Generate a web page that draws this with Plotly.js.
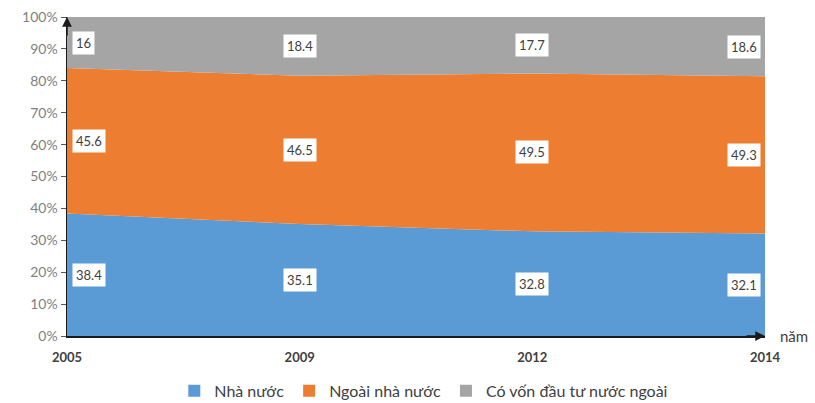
<!DOCTYPE html>
<html><head><meta charset="utf-8">
<script src="https://cdn.plot.ly/plotly-3.0.1.min.js"></script>
<style>html,body{margin:0;padding:0;background:#fff;}#c{width:815px;height:403px;}</style>
</head><body><div id="c"></div>
<script>
const years = ['2005','2009','2012','2014'];
const nhaNuoc = [38.4, 35.1, 32.8, 32.1];
const ngoaiNhaNuoc = [45.6, 46.5, 49.5, 49.3];
const fdi = [16, 18.4, 17.7, 18.6];
const names = ['Nhà nước','Ngoài nhà nước','Có vốn đầu tư nước ngoài'];
const colors = ['#5B9BD5','#ED7D31','#A5A5A5'];
const series = [nhaNuoc, ngoaiNhaNuoc, fdi];

const xi = years.map((_, i) => i);
const traces = series.map((s, k) => ({
  x: xi, y: s, name: names[k], type: 'scatter', mode: 'none', showlegend: false,
  stackgroup: 'one', fillcolor: colors[k], line: {width: 0}, hoverinfo: 'skip'
}));
// legend-only square markers
names.forEach((n, k) => traces.push({
  x: [null], y: [null], name: n, type: 'bar', marker: {color: colors[k]}, hoverinfo: 'skip'
}));

const annotations = [];
xi.forEach(i => {
  let base = 0;
  series.forEach(s => {
    const mid = base + s[i] / 2;
    base += s[i];
    const last = i === xi.length - 1, first = i === 0;
    annotations.push({
      x: i, y: mid, xref: 'x', yref: 'y', text: String(s[i]), showarrow: false,
      xanchor: first ? 'left' : (last ? 'right' : 'center'),
      xshift: first ? 5 : (last ? -4 : 0),
      bgcolor: '#ffffff', borderpad: 3,
      font: {family: 'Lato, "Open Sans", sans-serif', size: 13, color: '#404040'}
    });
  });
});
// axis arrows
annotations.push({xref:'paper', yref:'paper', x:0, y:1.0, ax:0, ay:20,
  showarrow:true, arrowhead:2, arrowsize:1.3, arrowwidth:1.5, arrowcolor:'#1a1a1a', text:''});
annotations.push({xref:'paper', yref:'paper', x:1.0, y:0, ax:-20, ay:0,
  showarrow:true, arrowhead:2, arrowsize:1.3, arrowwidth:1.5, arrowcolor:'#1a1a1a', text:''});
annotations.push({xref:'paper', yref:'paper', x:1.0, y:0, xshift:13, xanchor:'left', yanchor:'middle',
  showarrow:false, text:'năm', font:{family:'Lato, "Open Sans", sans-serif', size:15, color:'#404040'}});

const layout = {
  width: 815, height: 403,
  margin: {l: 67, r: 50, t: 17, b: 67},
  paper_bgcolor: '#fff', plot_bgcolor: '#fff',
  showlegend: true,
  legend: {orientation: 'h', traceorder: 'normal', x: 0.52, xref: 'container', xanchor: 'center',
    y: 0.03, yref: 'container', yanchor: 'middle', itemwidth: 30,
    font: {family: 'Lato, "Open Sans", sans-serif', size: 16, color: '#404040'}},
  xaxis: {range: [0, 3], tickvals: xi, ticktext: years, showgrid: false, zeroline: false,
    showline: true, linecolor: '#1a1a1a', linewidth: 1.5, ticks: '', ticklabelstandoff: 9,
    tickfont: {family: 'Lato, "Open Sans", sans-serif', size: 13, color: '#404040', weight: 'bold'}},
  yaxis: {range: [0, 100], dtick: 10, ticksuffix: '%', showgrid: false, zeroline: false,
    showline: true, linecolor: '#1a1a1a', linewidth: 1.5, ticks: 'outside', ticklen: 5, tickcolor: '#595959',
    tickfont: {family: 'Lato, "Open Sans", sans-serif', size: 14, color: '#7f7f7f'}},
  annotations: annotations
};
Plotly.newPlot('c', traces, layout, {displayModeBar: false, staticPlot: true});
</script></body></html>
